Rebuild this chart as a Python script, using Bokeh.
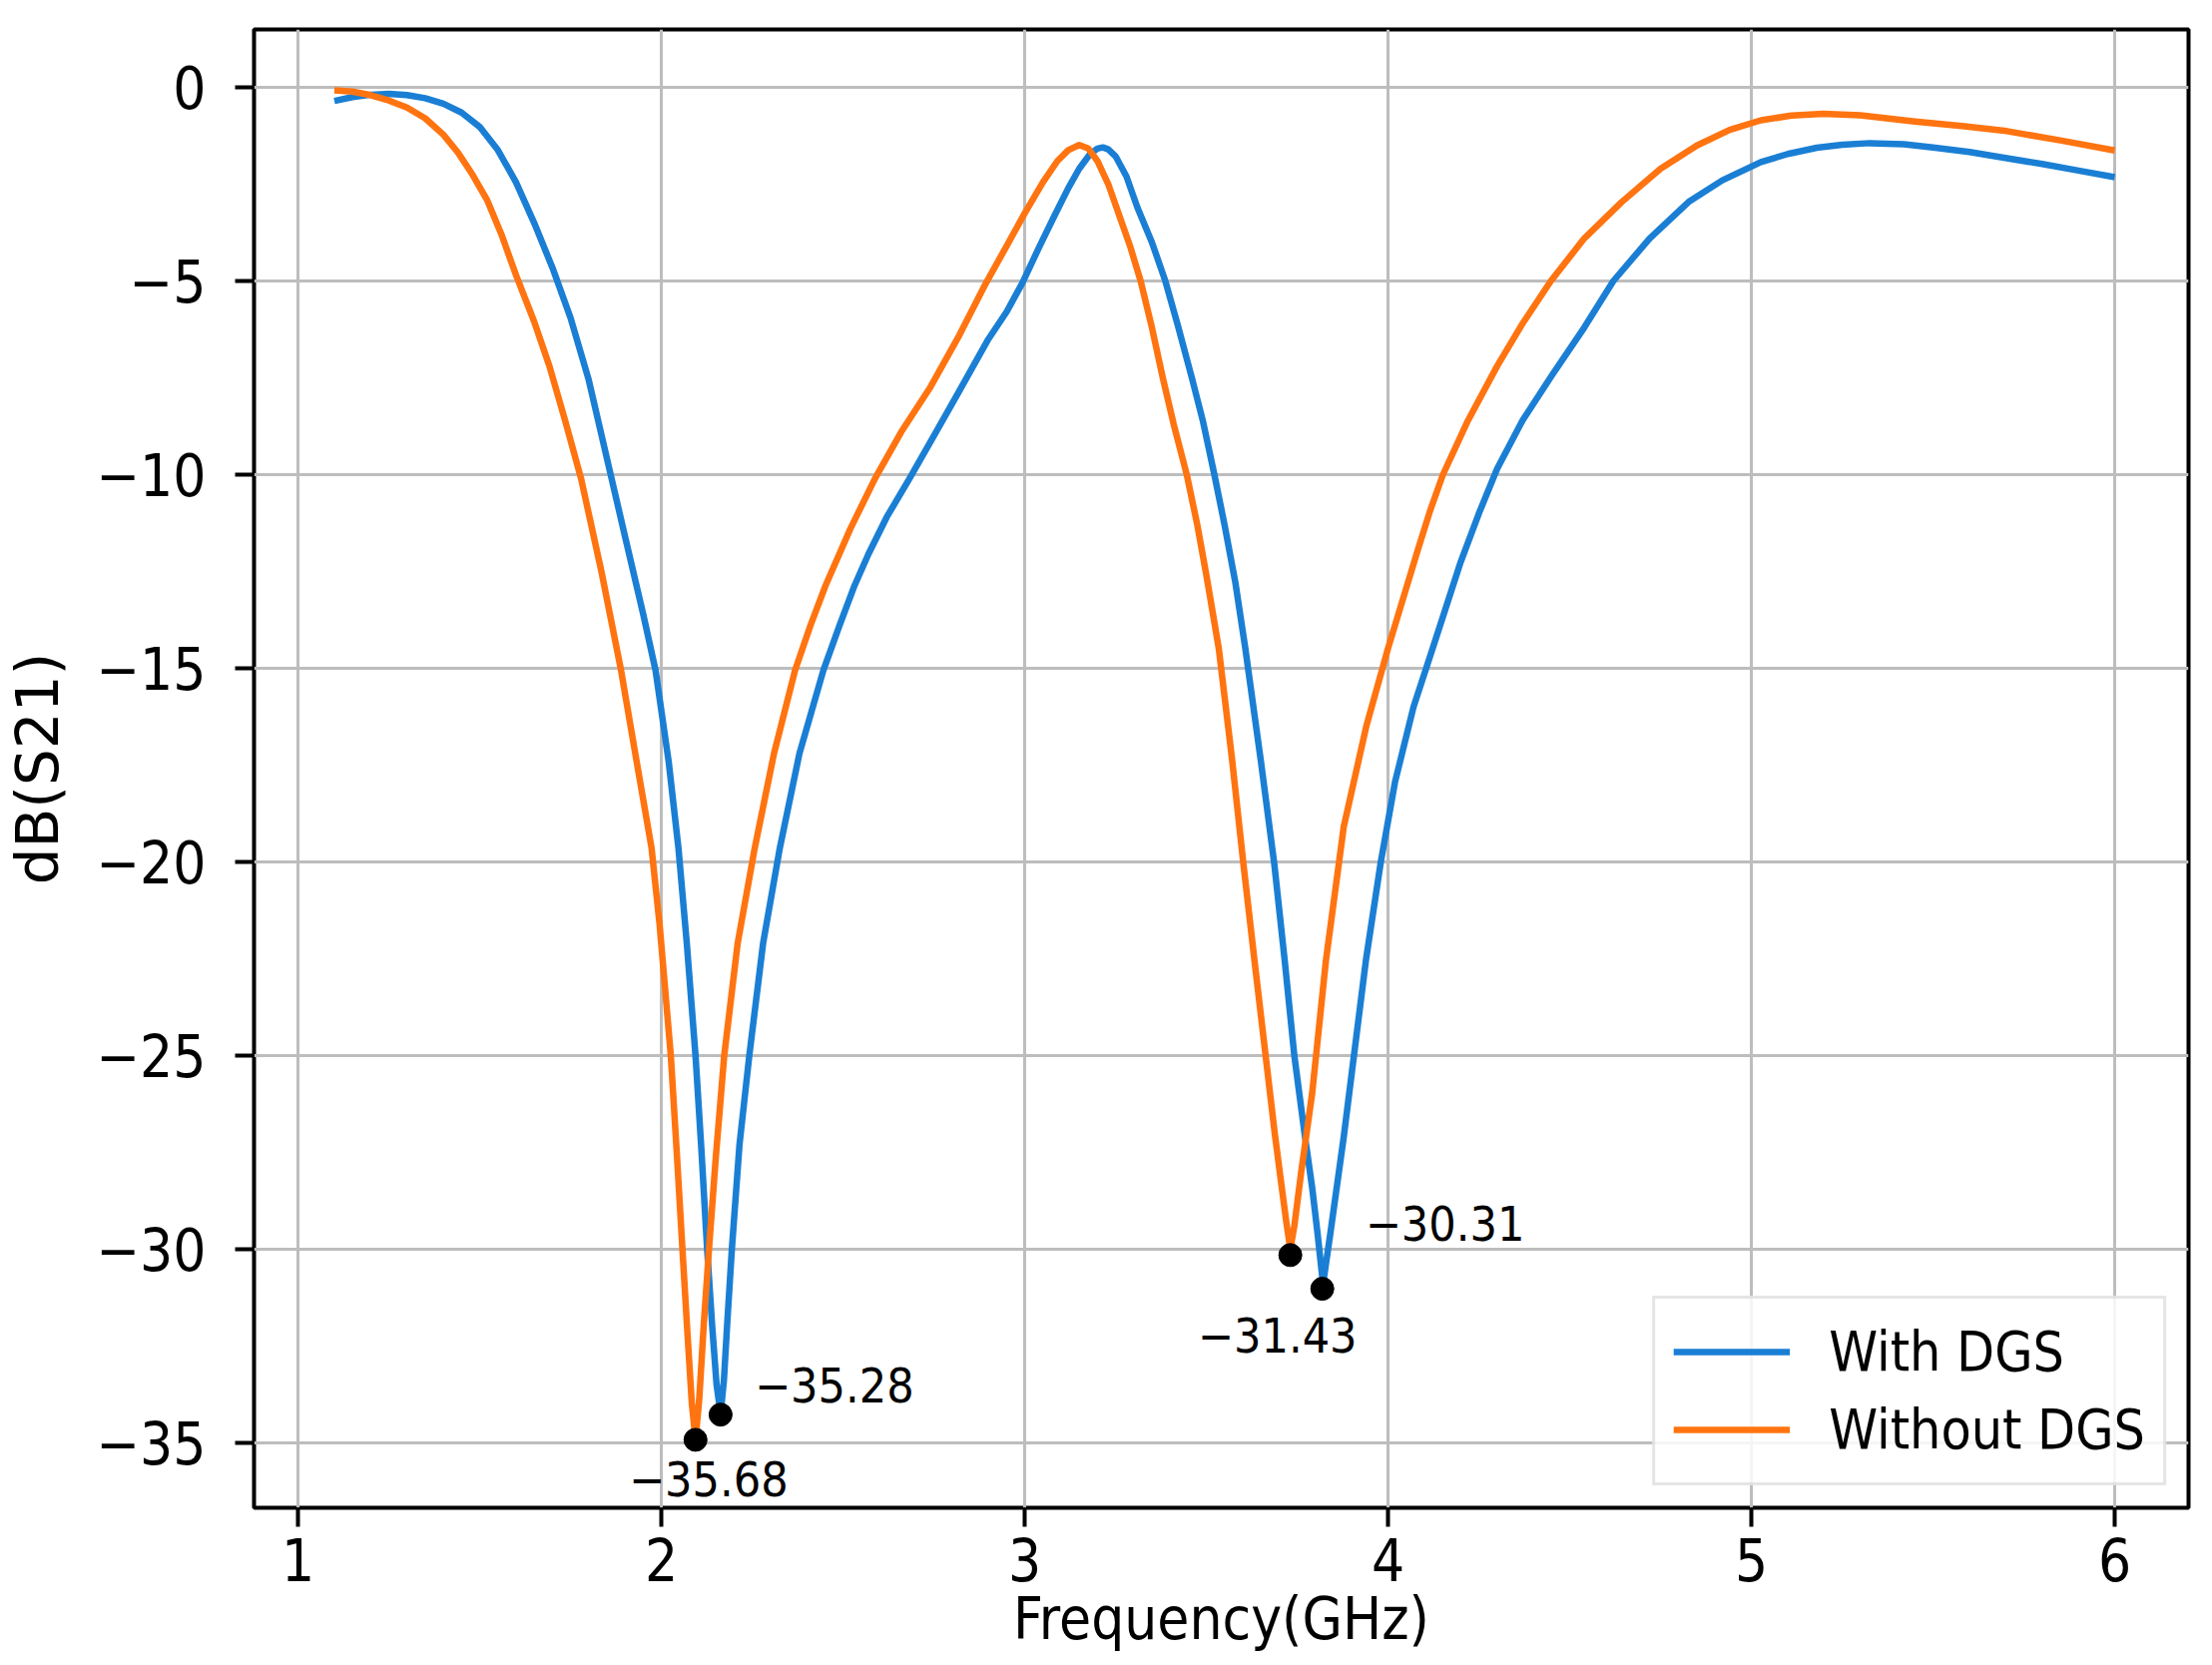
from bokeh.plotting import figure
from bokeh.models import (Range1d, FixedTicker, Legend, LegendItem, ColumnDataSource, LabelSet)
from bokeh.core.properties import value
from bokeh.embed import file_html
from bokeh.resources import INLINE

# ---------------- data ----------------
freq_with = [1.10, 1.15, 1.20, 1.25, 1.30, 1.35, 1.40, 1.45, 1.50, 1.55, 1.60, 1.65,
             1.70, 1.75, 1.80, 1.863, 1.90, 1.95, 1.984, 2.02, 2.047, 2.07, 2.094, 2.11,
             2.126, 2.14, 2.152, 2.163, 2.172, 2.182, 2.194, 2.215, 2.242, 2.28, 2.326, 2.38,
             2.446, 2.49, 2.53, 2.57, 2.62, 2.683, 2.75, 2.815, 2.90, 2.95, 2.993, 3.04, 3.08,
             3.12, 3.15, 3.18, 3.20, 3.215, 3.23, 3.25, 3.28, 3.31, 3.35, 3.387, 3.42,
             3.46, 3.49, 3.522, 3.55, 3.58, 3.607, 3.65, 3.687, 3.715, 3.742, 3.77, 3.791,
             3.806, 3.821, 3.841, 3.878, 3.939, 3.98, 4.019, 4.07, 4.123, 4.20, 4.25, 4.30,
             4.37, 4.45, 4.54, 4.62, 4.72, 4.827, 4.92, 5.026, 5.10, 5.18, 5.25, 5.325, 5.42,
             5.50, 5.60, 5.703, 5.80, 5.90, 6.0]
db_with = [-0.35, -0.25, -0.19, -0.17, -0.20, -0.28, -0.42, -0.65, -1.02, -1.62, -2.45, -3.50,
           -4.65, -5.95, -7.55, -10.10, -11.60, -13.60, -15.05, -17.40, -19.64, -22.10, -25.00, -27.40,
           -30.00, -32.00, -33.50, -34.25, -33.40, -31.80, -30.00, -27.30, -25.00, -22.10, -19.64, -17.20,
           -15.05, -13.90, -12.90, -12.05, -11.10, -10.10, -9.00, -7.92, -6.50, -5.80, -5.06, -4.12, -3.35,
           -2.60, -2.10, -1.72, -1.58, -1.55, -1.60, -1.78, -2.30, -3.10, -4.00, -5.00, -6.10,
           -7.50, -8.60, -10.00, -11.30, -12.80, -14.48, -17.40, -20.06, -22.50, -25.00, -27.00, -28.40,
           -29.60, -30.90, -29.60, -27.10, -22.54, -20.00, -17.94, -16.00, -14.48, -12.25, -11.00, -9.85,
           -8.60, -7.45, -6.20, -5.00, -3.90, -2.96, -2.40, -1.93, -1.72, -1.56, -1.48, -1.44, -1.47,
           -1.55, -1.67, -1.83, -1.98, -2.15, -2.32]

freq_without = [1.10, 1.15, 1.20, 1.25, 1.30, 1.35, 1.40, 1.44, 1.48, 1.52, 1.56, 1.60,
                1.65, 1.692, 1.735, 1.779, 1.835, 1.889, 1.93, 1.973, 1.995, 2.026, 2.043, 2.058,
                2.072, 2.084, 2.094, 2.104, 2.117, 2.131, 2.15, 2.173, 2.21, 2.257, 2.31, 2.368,
                2.41, 2.452, 2.52, 2.588, 2.66, 2.741, 2.82, 2.893, 2.95, 3.0, 3.05, 3.09,
                3.12, 3.15, 3.175, 3.20, 3.23, 3.26, 3.29, 3.319, 3.35, 3.38, 3.41, 3.446,
                3.475, 3.50, 3.534, 3.57, 3.602, 3.633, 3.663, 3.688, 3.706, 3.72, 3.731, 3.742,
                3.761, 3.791, 3.829, 3.878, 3.94, 4.0, 4.08, 4.115, 4.151, 4.22, 4.30, 4.37, 4.448,
                4.54, 4.643, 4.75, 4.85, 4.94, 5.026, 5.11, 5.198, 5.30, 5.45, 5.58, 5.703,
                5.85, 6.0]
db_without = [-0.08, -0.11, -0.20, -0.34, -0.52, -0.80, -1.22, -1.68, -2.25, -2.90, -3.80, -4.85,
              -6.05, -7.20, -8.60, -10.10, -12.50, -15.05, -17.30, -19.64, -21.60, -25.00, -27.60, -30.00,
              -32.20, -34.00, -34.90, -33.90, -31.90, -30.00, -27.60, -25.00, -22.10, -19.64, -17.20, -15.05,
              -13.90, -12.86, -11.40, -10.10, -8.90, -7.73, -6.40, -5.06, -4.10, -3.25, -2.45, -1.90,
              -1.62, -1.49, -1.58, -1.90, -2.50, -3.30, -4.10, -5.00, -6.20, -7.50, -8.70, -10.00,
              -11.30, -12.60, -14.48, -17.30, -20.06, -22.60, -25.00, -27.00, -28.30, -29.30, -30.00, -29.40,
              -28.00, -25.98, -22.54, -19.09, -16.50, -14.48, -12.00, -10.95, -10.00, -8.60, -7.20, -6.10, -5.00,
              -3.90, -2.96, -2.10, -1.50, -1.10, -0.85, -0.73, -0.68, -0.72, -0.88, -1.00, -1.13,
              -1.37, -1.63]

series_names = ["With DGS", "Without DGS"]

dip_freq = [2.094, 2.163, 3.731, 3.819]
dip_db = [-34.92, -34.27, -30.15, -31.02]
dip_labels = ["\u221235.68", "\u221235.28", "\u221230.31", "\u221231.43"]

x_ticks = [1, 2, 3, 4, 5, 6]
y_ticks = [0, -5, -10, -15, -20, -25, -30, -35]

x_title = "Frequency(GHz)"
y_title = "dB(S21)"

# ---------------- styling ----------------
BLUE = "#1a7fd4"
ORANGE = "#ff7410"
FONT_H = "DejaVu Sans Condensed, DejaVu Sans"
FONT_V = "DejaVu Sans"

X0, X1 = 0.879, 6.203
Y0, Y1 = -36.675, 1.495

p = figure(width=2200, height=1660, output_backend="svg", toolbar_location=None,
           x_range=Range1d(X0, X1), y_range=Range1d(Y0, Y1),
           min_border_left=254, min_border_right=8, min_border_top=29, min_border_bottom=150)
p.background_fill_color = "white"
p.border_fill_color = "white"
p.outline_line_color = "black"
p.outline_line_width = 4

r_with = p.line(freq_with, db_with, line_color=BLUE, line_width=6.5, line_join="round")
r_without = p.line(freq_without, db_without, line_color=ORANGE, line_width=6.5, line_join="round")

p.scatter(dip_freq, dip_db, size=23, marker="circle", fill_color="black", line_color="black")

# annotations (offsets in screen px from each marked point)
lab_src = ColumnDataSource(dict(x=dip_freq, y=dip_db, t=dip_labels,
                                xo=[13, 34, 75, -45], yo=[-39, 30, 32, -46],
                                al=["center", "left", "left", "center"]))
p.add_layout(LabelSet(x="x", y="y", text="t", source=lab_src, x_offset="xo", y_offset="yo",
                      text_align="al", text_baseline="middle", text_font=value(FONT_H),
                      text_font_size="48px", text_color="black"))

# axes
for ax in (p.xaxis[0], p.yaxis[0]):
    ax.axis_line_color = None
    ax.major_tick_line_color = "black"
    ax.major_tick_line_width = 4
    ax.major_tick_out = 19
    ax.major_tick_in = 0
    ax.minor_tick_line_color = None
    ax.major_label_text_font = FONT_H
    ax.major_label_text_font_size = "58px"
    ax.major_label_text_color = "black"
    ax.axis_label_text_font_style = "normal"
    ax.axis_label_text_color = "black"
    ax.axis_label_text_font_size = "58px"

p.xaxis.ticker = FixedTicker(ticks=x_ticks)
p.yaxis.ticker = FixedTicker(ticks=y_ticks)
p.xaxis.major_label_overrides = {t: str(t) for t in x_ticks}
p.yaxis.major_label_overrides = {t: (str(t).replace("-", "\u2212")) for t in y_ticks}
p.xaxis.major_label_standoff = 11
p.yaxis.major_label_standoff = 29
p.xaxis.axis_label = x_title
p.xaxis.axis_label_text_font = FONT_H
p.xaxis.axis_label_standoff = 1
p.yaxis.axis_label = y_title
p.yaxis.axis_label_text_font = FONT_V
p.yaxis.axis_label_standoff = 21

# grid
p.xgrid.ticker = FixedTicker(ticks=x_ticks)
p.ygrid.ticker = FixedTicker(ticks=y_ticks)
for g in (p.xgrid[0], p.ygrid[0]):
    g.grid_line_color = "#bdbdbd"
    g.grid_line_width = 3

legend = Legend(items=[LegendItem(label=series_names[0], renderers=[r_with]),
                       LegendItem(label=series_names[1], renderers=[r_without])],
                location="bottom_right", margin=22, padding=18, spacing=8,
                glyph_width=117, glyph_height=70, label_height=70, label_standoff=39,
                label_text_font=FONT_H, label_text_font_size="55px", label_text_color="black",
                border_line_color="#cccccc", border_line_width=3,
                background_fill_color="white", background_fill_alpha=0.85)
p.add_layout(legend)

open("out.html", "w").write(file_html(p, INLINE))
